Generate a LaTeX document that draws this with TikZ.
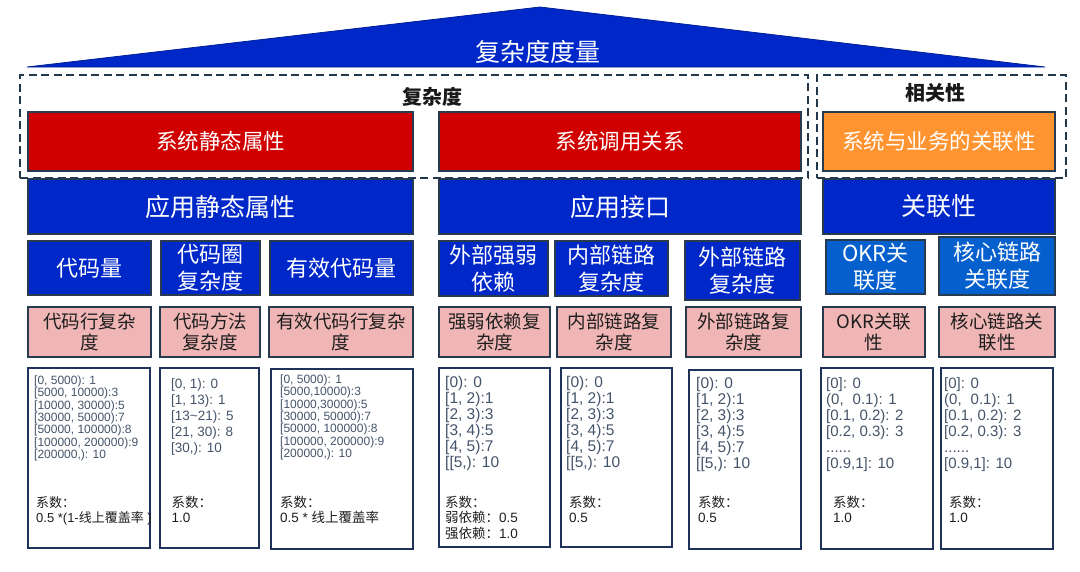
\documentclass[tikz,border=0pt]{standalone}
\usepackage{fontspec}
\setmainfont{Liberation Sans}
\newfontfamily\cjk{Noto Sans CJK SC}
\definecolor{deepblue}{RGB}{0,40,200}
\definecolor{midblue}{RGB}{5,95,205}
\definecolor{redc}{RGB}{208,0,0}
\definecolor{orangec}{RGB}{255,148,48}
\definecolor{pinkc}{RGB}{240,182,182}
\definecolor{edgec}{RGB}{40,58,80}
\definecolor{rangec}{RGB}{68,84,106}
\definecolor{whiteedge}{RGB}{30,50,90}
\definecolor{dashc}{RGB}{35,55,75}
\definecolor{inkc}{RGB}{30,30,30}
\newcommand\mybox[7]{\node[#6, minimum width={#4-#2}, minimum height={#5-#3}] (#1) at ({(#2+#4)/2},{(#3+#5)/2}) {#7};}
\newcommand\linesL[1]{\begin{tabular}[t]{@{}l@{}}#1\end{tabular}}
\tikzset{
  box/.style={draw=edgec, line width=1.3pt, inner sep=0pt, align=center},
  redbox/.style={box, fill=redc, text=white, font=\cjk\fontsize{21.5}{26}\selectfont},
  orangebox/.style={box, fill=orangec, text=white, font=\cjk\fontsize{21.5}{26}\selectfont},
  bigblue/.style={box, fill=deepblue, text=white, font=\cjk\fontsize{25}{30}\selectfont},
  smallblue/.style={box, fill=deepblue, text=white, font=\cjk\fontsize{22}{27}\selectfont},
  lightblue/.style={box, fill=midblue, text=white, font=\cjk\fontsize{22}{27}\selectfont},
  pinkbox/.style={box, fill=pinkc, text=inkc, font=\cjk\fontsize{18.5}{20.5}\selectfont},
  whitebox/.style={draw=whiteedge, line width=1.5pt, fill=white, inner sep=0pt},
  grpbox/.style={draw=dashc, line width=1.4pt, dash pattern=on 8pt off 4.5pt, inner sep=0pt},
  rng/.style={inner sep=0pt, anchor=base west, text=rangec},
  coef/.style={inner sep=0pt, anchor=base west, text=inkc, font=\fontsize{13.5}{15}\selectfont},
}
\begin{document}
\begin{tikzpicture}[x=1pt,y=-1pt]
\useasboundingbox (0,0) rectangle (1080,571);
% roof
\coordinate (tl) at (27,67);
\coordinate (tp) at (540,7);
\coordinate (tr) at (1045,67);
\filldraw[fill=deepblue, draw=deepblue!75!black, line width=0.8pt] (tl) -- (tp) -- (tr) -- cycle;
\node[text=white, font=\cjk\fontsize{25}{30}\selectfont, inner sep=0pt] (title) at (538,52) {复杂度度量};
% group frames
\mybox{grpA}{20}{75}{808}{178}{grpbox}{}
\mybox{grpB}{817}{75}{1066}{178}{grpbox}{}
\node[font=\cjk\bfseries\fontsize{20}{24}\selectfont, text=black!90, inner sep=0pt] (lblA) at (432,97) {复杂度};
\node[font=\cjk\bfseries\fontsize{20}{24}\selectfont, text=black!90, inner sep=0pt] (lblB) at (935,93) {相关性};
% system row
\mybox{r1}{28}{112}{413}{171}{redbox}{系统静态属性}
\mybox{r2}{439}{112}{801}{171}{redbox}{系统调用关系}
\mybox{r3}{823}{112}{1055}{171}{orangebox}{系统与业务的关联性}
% application row
\mybox{b1}{28}{179}{413}{234}{bigblue}{应用静态属性}
\mybox{b2}{439}{179}{801}{234}{bigblue}{应用接口}
\mybox{b3}{823}{179}{1055}{234}{bigblue}{关联性}
% metric row
\mybox{s1}{28}{241}{151}{295}{smallblue}{代码量}
\mybox{s2}{161}{241}{260}{295}{smallblue}{代码圈\\复杂度}
\mybox{s3}{270}{241}{413}{295}{smallblue}{有效代码量}
\mybox{s4}{439}{241}{548}{296}{smallblue}{外部强弱\\依赖}
\mybox{s5}{555}{241}{668}{296}{smallblue}{内部链路\\复杂度}
\mybox{s6}{685}{241}{800}{300}{smallblue}{外部链路\\复杂度}
\mybox{s7}{826}{240}{925}{294}{lightblue}{OKR关\\联度}
\mybox{s8}{939}{237}{1055}{295}{lightblue}{核心链路\\关联度}
% complexity row
\mybox{p1}{28}{307}{151}{357}{pinkbox}{代码行复杂\\度}
\mybox{p2}{160}{307}{260}{357}{pinkbox}{代码方法\\复杂度}
\mybox{p3}{269}{307}{413}{357}{pinkbox}{有效代码行复杂\\度}
\mybox{p4}{439}{307}{550}{357}{pinkbox}{强弱依赖复\\杂度}
\mybox{p5}{557}{307}{671}{357}{pinkbox}{内部链路复\\杂度}
\mybox{p6}{686}{307}{801}{357}{pinkbox}{外部链路复\\杂度}
\mybox{p7}{823}{307}{925}{357}{pinkbox}{OKR关联\\性}
\mybox{p8}{939}{307}{1055}{357}{pinkbox}{核心链路关\\联性}
% scoring boxes
\mybox{w1}{28}{368}{150}{548}{whitebox}{}
\mybox{w2}{160}{368}{259}{548}{whitebox}{}
\mybox{w3}{271}{369}{413}{549}{whitebox}{}
\mybox{w4}{439}{368}{550}{547}{whitebox}{}
\mybox{w5}{561}{368}{672}{547}{whitebox}{}
\mybox{w6}{689}{370}{801}{549}{whitebox}{}
\mybox{w7}{821}{368}{933}{549}{whitebox}{}
\mybox{w8}{941}{368}{1053}{549}{whitebox}{}
% ranges
\node[rng, font=\fontsize{12}{12.2}\selectfont] (t1) at (34,384.5) {\linesL{[0, 5000): 1\\{}[5000, 10000):3\\{}[10000, 30000):5\\{}[30000, 50000):7\\{}[50000, 100000):8\\{}[100000, 200000):9\\{}[200000,): 10}};
\node[rng, font=\fontsize{13.5}{16}\selectfont] (t2) at (171,388) {\linesL{[0, 1): 0\\{}[1, 13): 1\\{}[13\char`\~21): 5\\{}[21, 30): 8\\{}[30,): 10}};
\node[rng, font=\fontsize{12}{12.2}\selectfont] (t3) at (280,383.5) {\linesL{[0, 5000): 1\\{}[5000,10000):3\\{}[10000,30000):5\\{}[30000, 50000):7\\{}[50000, 100000):8\\{}[100000, 200000):9\\{}[200000,): 10}};
\node[rng, font=\fontsize{15.5}{15.7}\selectfont] (t4) at (445,387.5) {\linesL{[0): 0\\{}[1, 2):1\\{}[2, 3):3\\{}[3, 4):5\\{}[4, 5):7\\{}[[5,): 10}};
\node[rng, font=\fontsize{15.5}{15.7}\selectfont] (t5) at (566,387.5) {\linesL{[0): 0\\{}[1, 2):1\\{}[2, 3):3\\{}[3, 4):5\\{}[4, 5):7\\{}[[5,): 10}};
\node[rng, font=\fontsize{15.5}{15.7}\selectfont] (t6) at (696,388.5) {\linesL{[0): 0\\{}[1, 2):1\\{}[2, 3):3\\{}[3, 4):5\\{}[4, 5):7\\{}[[5,): 10}};
\node[rng, font=\fontsize{15}{16}\selectfont] (t7) at (826,388.5) {\linesL{[0]: 0\\{}(0,\hspace{9pt}0.1): 1\\{}[0.1, 0.2): 2\\{}[0.2, 0.3): 3\\{}......\\{}[0.9,1]: 10}};
\node[rng, font=\fontsize{15}{16}\selectfont] (t8) at (944,388.5) {\linesL{[0]: 0\\{}(0,\hspace{9pt}0.1): 1\\{}[0.1, 0.2): 2\\{}[0.2, 0.3): 3\\{}......\\{}[0.9,1]: 10}};
% coefficients
\node[coef, font=\fontsize{13}{15}\selectfont] (c1) at (36,507) {\linesL{{\cjk 系数：}\\0.5 *(1-{\cjk 线上覆盖率} )}};
\node[coef] (c2) at (171.5,507) {\linesL{{\cjk 系数：}\\1.0}};
\node[coef] (c3) at (280,507) {\linesL{{\cjk 系数：}\\0.5 * {\cjk 线上覆盖率}}};
\node[coef, font=\fontsize{13.5}{15.5}\selectfont] (c4) at (445,507) {\linesL{{\cjk 系数：}\\{\cjk 弱依赖：}0.5\\{\cjk 强依赖：}1.0}};
\node[coef] (c5) at (569,507) {\linesL{{\cjk 系数：}\\0.5}};
\node[coef] (c6) at (698,507) {\linesL{{\cjk 系数：}\\0.5}};
\node[coef] (c7) at (833,507) {\linesL{{\cjk 系数：}\\1.0}};
\node[coef] (c8) at (949,507) {\linesL{{\cjk 系数：}\\1.0}};
\end{tikzpicture}
\end{document}
